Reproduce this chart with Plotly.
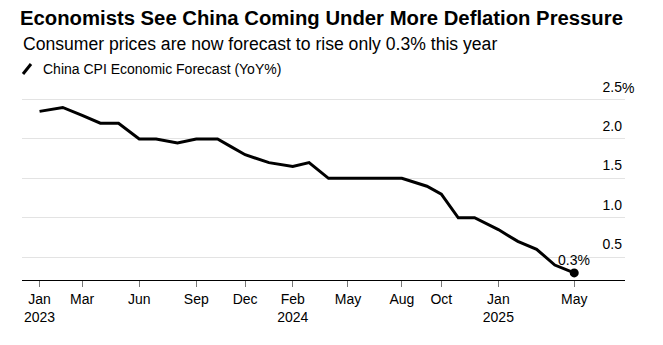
import plotly.graph_objects as go

# ---- data ----
survey_dates = [
    "2023-01-10", "2023-02-16", "2023-03-19", "2023-04-17", "2023-05-16",
    "2023-06-18", "2023-07-15", "2023-08-18", "2023-09-17", "2023-10-21",
    "2023-11-12", "2023-12-04", "2024-01-11", "2024-02-18", "2024-03-15",
    "2024-04-15", "2024-05-16", "2024-06-14", "2024-07-12", "2024-08-10",
    "2024-09-19", "2024-10-12", "2024-11-08", "2024-12-04", "2025-01-11",
    "2025-02-11", "2025-03-13", "2025-04-11", "2025-05-12",
]
cpi_forecast = [
    2.35, 2.4, 2.3, 2.2, 2.2,
    2.0, 2.0, 1.95, 2.0, 2.0,
    1.9, 1.8, 1.7, 1.65, 1.7,
    1.5, 1.5, 1.5, 1.5, 1.5,
    1.4, 1.3, 1.0, 1.0, 0.85,
    0.7, 0.6, 0.4, 0.3,
]
series_name = "China CPI Economic Forecast (YoY%)"

x_tick_vals = [
    "2023-01-10", "2023-03-19", "2023-06-18", "2023-09-17", "2023-12-04",
    "2024-02-18", "2024-05-16", "2024-08-10", "2024-10-12", "2025-01-11",
    "2025-05-12",
]
x_tick_text = [
    "Jan<br>2023", "Mar", "Jun", "Sep", "Dec",
    "Feb<br>2024", "May", "Aug", "Oct", "Jan<br>2025", "May",
]
y_tick_vals = [0.5, 1.0, 1.5, 2.0, 2.5]
y_tick_text = ["0.5", "1.0", "1.5", "2.0", "2.5"]

title_text = "Economists See China Coming Under More Deflation Pressure"
subtitle_text = "Consumer prices are now forecast to rise only 0.3% this year"

FONT = "Liberation Sans, Arial, Helvetica, sans-serif"

W, H = 663, 345
ML, MR, MT, MB = 22, 38, 72, 65
PW = W - ML - MR
PH = H - MT - MB


def px_x(px):
    return (px - ML) / PW


def px_y(py):
    return (H - MB - py) / PH


fig = go.Figure()
fig.add_trace(go.Scatter(
    x=survey_dates, y=cpi_forecast, mode="lines",
    line=dict(color="#000000", width=3), name=series_name,
    showlegend=False, hoverinfo="skip",
))
fig.add_trace(go.Scatter(
    x=[survey_dates[-1]], y=[cpi_forecast[-1]], mode="markers",
    marker=dict(color="#000000", size=9), showlegend=False, hoverinfo="skip",
))

fig.update_layout(
    width=W, height=H,
    margin=dict(l=ML, r=MR, t=MT, b=MB, pad=0),
    paper_bgcolor="white", plot_bgcolor="white",
    font=dict(family=FONT, size=14, color="#000000"),
    title=dict(
        text="<b>" + title_text + "</b>",
        x=20 / W, xanchor="left", xref="container",
        y=1 - 18 / H, yanchor="middle", yref="container",
        font=dict(family=FONT, size=20.3, color="#000000"),
    ),
    xaxis=dict(
        type="date",
        range=["2022-12-13", "2025-08-01"],
        showgrid=False, zeroline=False,
        showline=True, linecolor="#000000", linewidth=1,
        ticks="outside", ticklen=6, tickcolor="#777777", tickwidth=1,
        tickvals=x_tick_vals, ticktext=x_tick_text,
        tickfont=dict(family=FONT, size=14, color="#000000"),
    ),
    yaxis=dict(
        range=[0.21, 2.85],
        side="right",
        showgrid=True, gridcolor="#e3e3e3", gridwidth=1,
        zeroline=False, showline=False, ticks="",
        tickvals=y_tick_vals, ticktext=y_tick_text,
        ticklabelposition="inside top",
        ticklabelstandoff=0,
        ticklabelshift=-3,
        tickfont=dict(family=FONT, size=14, color="#000000"),
    ),
    shapes=[
        # gap in the 0.5 gridline near the right edge
        dict(type="line", xref="paper", yref="y", x0=px_x(600), x1=1.0,
             y0=0.5, y1=0.5, line=dict(color="white", width=2), layer="between"),
        # legend slash icon
        dict(type="line", xref="paper", yref="paper",
             x0=px_x(23), y0=px_y(74), x1=px_x(31), y1=px_y(64),
             line=dict(color="#000000", width=3)),
    ],
    annotations=[
        dict(text=subtitle_text, xref="paper", yref="paper",
             x=px_x(21), y=px_y(44), xanchor="left", yanchor="middle",
             showarrow=False, font=dict(family=FONT, size=17.6, color="#000000")),
        dict(text=series_name, xref="paper", yref="paper",
             x=px_x(41), y=px_y(69), xanchor="left", yanchor="middle",
             showarrow=False, font=dict(family=FONT, size=14, color="#000000")),
        dict(text="%", xref="paper", yref="y", x=1.0, y=2.5,
             xanchor="left", yanchor="middle", xshift=-5, yshift=12,
             showarrow=False,
             font=dict(family=FONT, size=14, color="#000000")),
        dict(text=f"{cpi_forecast[-1]}%", xref="x", yref="y",
             x=survey_dates[-1], y=cpi_forecast[-1],
             xanchor="center", yanchor="middle", yshift=13, showarrow=False,
             font=dict(family=FONT, size=14, color="#000000")),
    ],
)

fig.write_html("out.html")
